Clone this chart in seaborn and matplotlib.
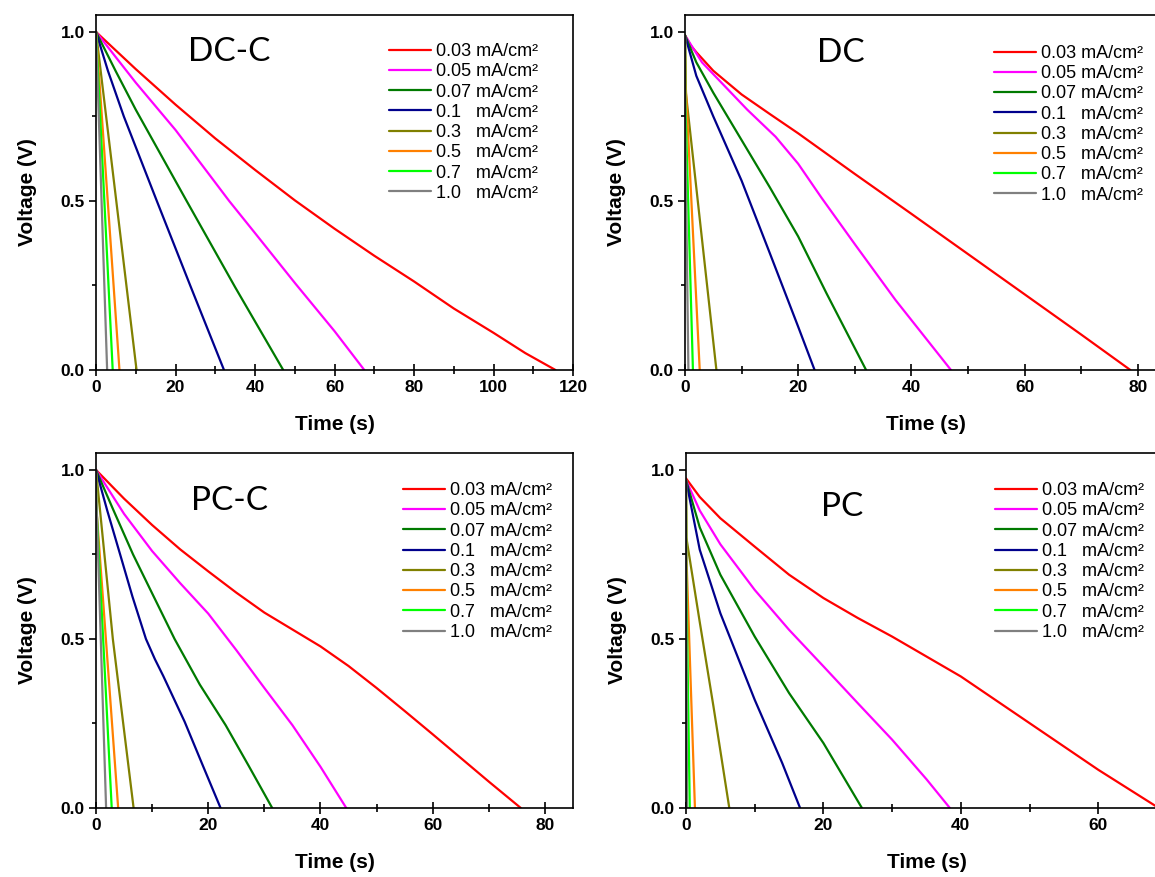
import matplotlib.pyplot as plt
import seaborn as sns
from matplotlib.ticker import MultipleLocator, FormatStrFormatter

# legend labels and colours (same for all four panels)
currents = ['0.03 mA/cm²', '0.05 mA/cm²', '0.07 mA/cm²', '0.1   mA/cm²',
            '0.3   mA/cm²', '0.5   mA/cm²', '0.7   mA/cm²', '1.0   mA/cm²']
colors = ['#ff0000', '#ff00ff', '#007a00', '#00008c',
          '#808000', '#ff8000', '#00ff00', '#808080']

# DC-C discharge curves (time s, voltage V), one list per current
dcc_time = [
    [0, 10, 20, 30, 40, 50, 60, 70, 80, 90, 100, 108, 115.6],
    [0, 10, 20, 33.5, 40, 50.2, 60, 67.5],
    [0, 5, 10, 22.8, 35, 47.1],
    [0, 3, 7, 15.3, 23.7, 32.2],
    [0, 10.2],
    [0, 5.9],
    [0, 4.2],
    [0, 2.8],
]
dcc_volt = [
    [1.0, 0.89, 0.785, 0.685, 0.592, 0.502, 0.418, 0.338, 0.262, 0.182, 0.11, 0.05, 0],
    [1.0, 0.85, 0.71, 0.5, 0.405, 0.255, 0.115, 0],
    [1.0, 0.883, 0.77, 0.5, 0.245, 0],
    [1.0, 0.885, 0.75, 0.5, 0.25, 0],
    [1.0, 0],
    [1.0, 0],
    [1.0, 0],
    [1.0, 0],
]

# DC
dc_time = [
    [0, 1, 2, 5, 10, 15, 20, 30, 40, 50, 60, 70, 78.7],
    [0, 3, 11, 16, 20, 24.1, 30.1, 37.2, 47.0],
    [0, 2, 5, 10, 15, 20, 25, 32.0],
    [0, 2, 5, 10, 15, 20, 22.9],
    [0, 0.15, 5.55],
    [0, 0.1, 2.6],
    [0, 0.05, 1.4],
    [0, 0.05, 0.6],
]
dc_volt = [
    [0.99, 0.96, 0.94, 0.885, 0.815, 0.757, 0.70, 0.58, 0.462, 0.343, 0.224, 0.105, 0],
    [0.99, 0.91, 0.77, 0.69, 0.61, 0.51, 0.37, 0.207, 0],
    [0.99, 0.91, 0.82, 0.68, 0.54, 0.395, 0.227, 0],
    [0.99, 0.87, 0.75, 0.56, 0.345, 0.128, 0],
    [0.99, 0.82, 0],
    [0.99, 0.85, 0],
    [0.99, 0.8, 0],
    [0.99, 0.7, 0],
]

# PC-C
pcc_time = [
    [0, 5, 10, 15, 20, 25, 30, 35, 40, 45, 50, 55, 60, 65, 70, 75.7],
    [0, 5, 10, 15, 20, 25, 30, 35, 40, 44.6],
    [0, 3, 6.6, 10, 14, 18.5, 23.1, 27.2, 31.4],
    [0, 2, 4.3, 6.5, 8.9, 10.5, 12, 15.8, 19, 22.2],
    [0, 3.0, 6.7],
    [0, 0.1, 3.95],
    [0, 0.05, 2.8],
    [0, 0.05, 1.8],
]
pcc_volt = [
    [1.0, 0.915, 0.837, 0.765, 0.70, 0.637, 0.578, 0.528, 0.478, 0.42, 0.355,
     0.287, 0.218, 0.148, 0.078, 0],
    [1.0, 0.87, 0.76, 0.665, 0.575, 0.467, 0.355, 0.245, 0.122, 0],
    [1.0, 0.885, 0.75, 0.635, 0.5, 0.365, 0.245, 0.125, 0],
    [1.0, 0.88, 0.75, 0.625, 0.5, 0.44, 0.39, 0.255, 0.127, 0],
    [1.0, 0.5, 0],
    [0.99, 0.88, 0],
    [0.99, 0.9, 0],
    [1.0, 0.92, 0],
]

# PC
pc_time = [
    [0, 2, 5, 10, 15, 20, 25, 30, 35, 40, 50, 60, 68.8],
    [0, 2, 5, 10, 15, 20, 25, 30, 35, 38.4],
    [0, 2, 5, 10, 15, 20, 25.6],
    [0, 2, 5, 10, 14, 16.6],
    [0, 0.05, 2, 4, 6.3],
    [0, 0.05, 1.3],
    [0, 0.03, 0.55],
    [0, 0.02, 0.15],
]
pc_volt = [
    [0.975, 0.92, 0.857, 0.773, 0.69, 0.621, 0.562, 0.507, 0.448, 0.389, 0.251, 0.113, 0],
    [0.97, 0.88, 0.78, 0.645, 0.527, 0.419, 0.31, 0.202, 0.085, 0],
    [0.97, 0.83, 0.69, 0.507, 0.34, 0.192, 0],
    [0.97, 0.764, 0.576, 0.32, 0.133, 0],
    [0.97, 0.8, 0.55, 0.3, 0],
    [0.97, 0.75, 0],
    [0.97, 0.7, 0],
    [0.97, 0.8, 0],
]

sns.set_style('ticks')
plt.rcParams['font.family'] = ['Liberation Sans', 'DejaVu Sans']
for key in ['axes.edgecolor', 'xtick.color', 'ytick.color', 'axes.labelcolor', 'text.color']:
    plt.rcParams[key] = 'black'

W, H = 1155, 877
fig = plt.figure(figsize=(W / 100, H / 100), dpi=100)


def px_axes(left, top, width, bottom):
    return fig.add_axes([left / W, 1 - bottom / H, width / W, (bottom - top) / H])


panels = [
    # name, times, volts, xmax, box (left, top, width, bottom), title pos, legend pos
    ('DC-C', dcc_time, dcc_volt, 120, (96, 15, 477, 370), (0.28, 0.895), (0.615, 0.921)),
    ('DC', dc_time, dc_volt, 85, (685, 15, 481, 370), (0.324, 0.893), (0.642, 0.916)),
    ('PC-C', pcc_time, pcc_volt, 85, (96, 453, 477, 808), (0.28, 0.865), (0.643, 0.918)),
    ('PC', pc_time, pc_volt, 70, (686, 453, 481, 808), (0.324, 0.849), (0.642, 0.918)),
]

for name, times, volts, xmax, box, tpos, lpos in panels:
    ax = px_axes(*box)
    for t, v, lab, c in zip(times, volts, currents, colors):
        sns.lineplot(x=t, y=v, ax=ax, color=c, linewidth=1.6, label=lab,
                     sort=False, estimator=None)

    ax.set_xlim(0, xmax)
    ax.set_ylim(0, 1.05)
    ax.xaxis.set_major_locator(MultipleLocator(20))
    ax.xaxis.set_minor_locator(MultipleLocator(10))
    ax.yaxis.set_major_locator(MultipleLocator(0.5))
    ax.yaxis.set_minor_locator(MultipleLocator(0.25))
    ax.yaxis.set_major_formatter(FormatStrFormatter('%.1f'))
    ax.tick_params(axis='x', which='major', direction='inout', length=9, width=1.2)
    ax.tick_params(axis='x', which='minor', direction='inout', length=6, width=1.2)
    ax.tick_params(axis='y', which='major', direction='out', length=5, width=1.2)
    ax.tick_params(axis='y', which='minor', direction='out', length=3, width=1.2)
    ax.tick_params(axis='both', which='major', labelsize=12.5, pad=3)
    for lbl in ax.get_xticklabels() + ax.get_yticklabels():
        lbl.set_fontweight('bold')
    for sp in ax.spines.values():
        sp.set_linewidth(1.2)
        sp.set_visible(True)

    ax.set_xlabel('Time (s)', fontsize=15, fontweight='bold', labelpad=14)
    ax.set_ylabel('Voltage (V)', fontsize=15, fontweight='bold', labelpad=17)

    ax.text(tpos[0], tpos[1], name, transform=ax.transAxes, fontsize=24,
            family=['Lato', 'DejaVu Sans'], ha='center', va='center')

    ax.legend(loc='upper left', bbox_to_anchor=lpos, frameon=False,
              fontsize=13, handlelength=2.33, handletextpad=0.28,
              labelspacing=0.18, borderpad=0, borderaxespad=0)

fig.savefig('out.png', dpi=100)
